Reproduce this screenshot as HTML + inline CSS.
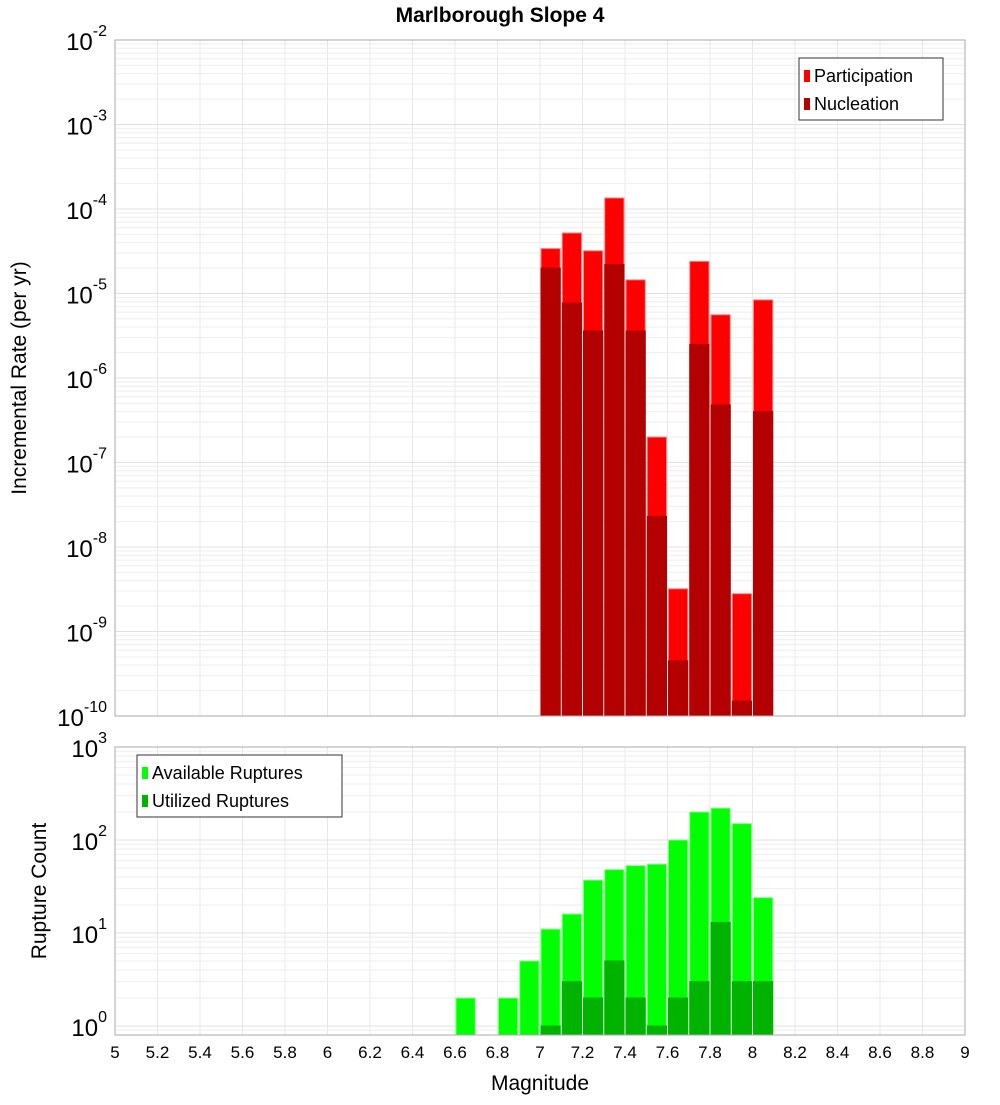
<!DOCTYPE html>
<html><head><meta charset="utf-8"><style>body{margin:0;background:#fff}svg text{font-family:"Liberation Sans","DejaVu Sans",sans-serif}</style></head>
<body>
<svg id="c" width="1000" height="1100" xmlns="http://www.w3.org/2000/svg"></svg>
<script>
const binCenters=[7.05,7.15,7.25,7.35,7.45,7.55,7.65,7.75,7.85,7.95,8.05];
const participation=[3.4e-5,5.2e-5,3.2e-5,1.35e-4,1.45e-5,2e-7,3.2e-9,2.4e-5,5.6e-6,2.8e-9,8.4e-6];
const nucleation=[2e-5,7.7e-6,3.6e-6,2.2e-5,3.6e-6,2.3e-8,4.5e-10,2.5e-6,4.8e-7,1.5e-10,4e-7];
const countCenters=[6.65,6.85,6.95,7.05,7.15,7.25,7.35,7.45,7.55,7.65,7.75,7.85,7.95,8.05];
const available=[2,2,5,11,16,37,48,53,55,100,200,220,150,24];
const utilized=[0,0,0,1,3,2,5,2,1,2,3,13,3,3];
const xTicks=[5,5.2,5.4,5.6,5.8,6,6.2,6.4,6.6,6.8,7,7.2,7.4,7.6,7.8,8,8.2,8.4,8.6,8.8,9];
const topExp=[-10,-9,-8,-7,-6,-5,-4,-3,-2];
const botExp=[0,1,2,3];
const NS="http://www.w3.org/2000/svg",svg=document.getElementById('c');
function el(t,a,p){const e=document.createElementNS(NS,t);for(const k in a)e.setAttribute(k,a[k]);(p||svg).appendChild(e);return e;}
const X0=115,X1=965;const x=v=>X0+(v-5)/4*(X1-X0);
const T0=40,T1=716;const yT=v=>T0+(-2-Math.log10(v))*(T1-T0)/8;
const B0=747,B1=1035,BD=93;const yB=v=>B0+(3-Math.log10(v))*BD;
function grid(top,bot,yf,exps){
 const g=el('g',{});
 xTicks.forEach(t=>el('line',{x1:x(t),x2:x(t),y1:top,y2:bot,stroke:'#e8e8e8'},g));
 for(let e=exps[0]-1;e<=exps[exps.length-1];e++)for(let m=1;m<10;m++){const yy=yf(m*Math.pow(10,e));if(yy<top||yy>bot)continue;el('line',{x1:X0,x2:X1,y1:yy,y2:yy,stroke:m==1?'#e0e0e0':'#eeeeee'},g);}
}
grid(T0,T1,yT,topExp);grid(B0,B1,yB,botExp);
function bars(centers,vals,yf,bot,fill,edge,name){
 centers.forEach((c,i)=>{if(!(vals[i]>0))return;const yy=yf(vals[i]);
  const r=el('rect',{x:x(c-0.05)+1,y:yy,width:x(c+0.05)-x(c-0.05)-2,height:bot-yy,fill:fill,stroke:edge,'stroke-width':1});
  });
}
bars(binCenters,participation,yT,T1,'#ff0000','#ff8080','participation');
bars(binCenters,nucleation,yT,T1,'#b30000','#b30000','nucleation');
bars(countCenters,available,yB,B1,'#00ff00','#80ff80','available');
bars(countCenters,utilized,yB,B1,'#00b300','#00b300','utilized');
el('rect',{x:X0,y:T0,width:X1-X0,height:T1-T0,fill:'none',stroke:'#aaa'});
el('rect',{x:X0,y:B0,width:X1-X0,height:B1-B0,fill:'none',stroke:'#aaa'});
function ylab(yy,e,name){const t=el('text',{x:107,y:yy+10,'text-anchor':'end','font-size':24,fill:'#000'});
 t.textContent='10';const s=el('tspan',{dy:-14,'font-size':16},t);s.textContent=e;}
topExp.forEach(e=>ylab(yT(Math.pow(10,e)),e,'y-tick-label'));
botExp.forEach(e=>ylab(yB(Math.pow(10,e)),e,'y2-tick-label'));
xTicks.forEach(t=>{const tx=el('text',{x:x(t),y:1058,'text-anchor':'middle','font-size':17});tx.textContent=String(t);});
function txt(s,a,n){const t=el('text',a);t.textContent=s;return t;}
txt('Marlborough Slope 4',{x:500,y:22,'text-anchor':'middle','font-size':21,'font-weight':'bold'},'chart-title');
txt('Magnitude',{x:540,y:1090,'text-anchor':'middle','font-size':21},'x-axis-title');
txt('Incremental Rate (per yr)',{x:0,y:0,transform:'translate(26,378) rotate(-90)','text-anchor':'middle','font-size':21},'y-axis-title');
txt('Rupture Count',{x:0,y:0,transform:'translate(46,891) rotate(-90)','text-anchor':'middle','font-size':21},'y2-axis-title');
function legend(lx,ly,w,items,n){const g=el('g',{});
 el('rect',{x:lx,y:ly,width:w,height:62,fill:'#fff',stroke:'#333'},g);
 items.forEach((it,i)=>{el('rect',{x:lx+5,y:ly+12+i*28,width:6,height:12,fill:it[1]},g);const t=el('text',{x:lx+15,y:ly+24+i*28,'font-size':18},g);t.textContent=it[0];});}
legend(799,58,144,[['Participation','#ff0000'],['Nucleation','#b30000']],'legend-top');
legend(137,755,205,[['Available Ruptures','#00ff00'],['Utilized Ruptures','#00b300']],'legend-bottom');
</script>
</body></html>
